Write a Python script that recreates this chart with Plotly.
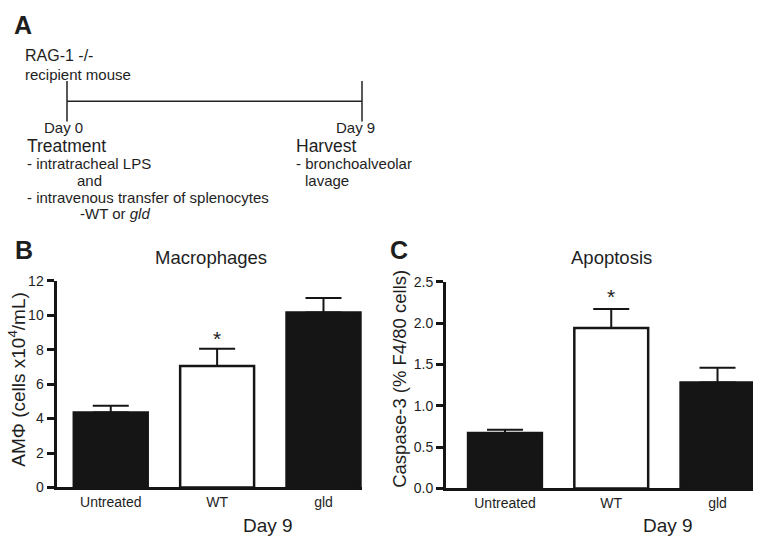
import plotly.graph_objects as go

W, H = 758, 545
FONT = "Liberation Sans, Arial, sans-serif"
TXT = "#1e1e1e"
INK = "#151515"

# ---- data ----
categories = ["Untreated", "WT", "gld"]
macrophage_mean = [4.35, 7.05, 10.15]
macrophage_upper = [4.75, 8.05, 11.0]
apoptosis_mean = [0.67, 1.94, 1.28]
apoptosis_upper = [0.71, 2.17, 1.46]
bar_colors = [INK, "white", INK]
significant = [False, True, False]
macro_ticks = [0, 2, 4, 6, 8, 10, 12]
apop_ticks = [0.0, 0.5, 1.0, 1.5, 2.0, 2.5]
timeline_days = [0, 9]


def px(x):
    return x / W


def py(y):
    return 1 - y / H


fig = go.Figure()


def bars(means, uppers, xa, ya):
    fig.add_trace(go.Bar(
        x=categories, y=means, xaxis=xa, yaxis=ya, width=0.695,
        marker=dict(color=bar_colors, line=dict(color=INK, width=2.5)),
        error_y=dict(type="data", symmetric=False,
                     array=[u - m for u, m in zip(uppers, means)],
                     arrayminus=[0] * len(means), color=INK, thickness=2, width=18),
        showlegend=False, hoverinfo="skip"))


bars(macrophage_mean, macrophage_upper, "x", "y")
bars(apoptosis_mean, apoptosis_upper, "x2", "y2")

# Panel A timeline
fig.add_trace(go.Scatter(
    x=timeline_days, y=[0, 0], xaxis="x3", yaxis="y3", mode="lines+markers",
    line=dict(color="#222222", width=1.5),
    marker=dict(symbol="line-ns", size=29, line=dict(color="#222222", width=1.5)),
    cliponaxis=False, showlegend=False, hoverinfo="skip"))

axis_common = dict(showline=True, linecolor=INK, linewidth=3,
                   showgrid=False, zeroline=False, fixedrange=True)
ytick_common = dict(ticks="outside", ticklen=7, tickwidth=2.5, tickcolor=INK,
                    tickfont=dict(size=14, color=TXT))

fig.update_layout(
    width=W, height=H, margin=dict(l=0, r=0, t=0, b=0),
    paper_bgcolor="white", plot_bgcolor="white",
    font=dict(family=FONT, color=TXT),
    xaxis=dict(domain=[px(56.5), px(362)], range=[-0.51, 2.362], anchor="y",
               ticks="", tickfont=dict(size=14, color=TXT), **axis_common),
    yaxis=dict(domain=[py(494), py(281)], range=[0, 12], anchor="x",
               tickvals=macro_ticks, **ytick_common, **axis_common),
    xaxis2=dict(domain=[px(446), px(753)], range=[-0.555, 2.334], anchor="y2",
                ticks="", tickfont=dict(size=14, color=TXT), **axis_common),
    yaxis2=dict(domain=[py(495), py(282)], range=[0, 2.5], anchor="x2",
                tickvals=apop_ticks, tickformat=".1f", **ytick_common, **axis_common),
    xaxis3=dict(domain=[px(67), px(362)], range=[0, 9], anchor="y3", visible=False,
                fixedrange=True),
    yaxis3=dict(domain=[py(111), py(81)], range=[-1, 1], anchor="x3", visible=False,
                fixedrange=True),
)

ann = []


def text(x, y, t, size, xanchor="left", bold=False, angle=0):
    ann.append(dict(x=px(x), y=py(y), xref="paper", yref="paper", text=t,
                    showarrow=False, xanchor=xanchor, yanchor="middle",
                    textangle=angle, borderpad=0,
                    font=dict(size=size, family=FONT, color=TXT,
                              weight="bold" if bold else "normal")))


# panel letters
text(23, 17, "A", 25, xanchor="center", bold=True)
text(24, 249, "B", 25, xanchor="center", bold=True)
text(399, 249, "C", 25, xanchor="center", bold=True)

# timeline text
text(24, 49, "RAG-1 -/-", 16)
text(24, 69, "recipient mouse", 15)
for d in timeline_days:
    ann.append(dict(x=d, y=0, xref="x3", yref="y3", text=f"Day {d}", showarrow=False,
                    xanchor="center", yanchor="middle", yshift=-26, borderpad=0,
                    xshift=-4 if d == 0 else -7,
                    font=dict(size=15, family=FONT, color=TXT)))
text(26, 142, "Treatment", 17.5)
text(26, 160, "- intratracheal LPS", 15)
text(76, 177.5, "and", 15)
text(26, 195, "- intravenous transfer of splenocytes", 15)
text(79, 212, "-WT or <i>gld</i>", 15)
text(295, 142, "Harvest", 17.5)
text(295, 160, "- bronchoalveolar", 15)
text(304, 178, "lavage", 15)

# chart titles
text(210.5, 257, "Macrophages", 18.5, xanchor="center")
text(611.5, 257, "Apoptosis", 18.5, xanchor="center")

# axis titles
text(17, 383, "AMΦ (cells x10<sup>4</sup>/mL)", 19, xanchor="center", angle=-90)
text(400, 382, "Caspase-3 (% F4/80 cells)", 18.5, xanchor="center", angle=-90)
text(268, 533, "Day 9", 19, xanchor="center")
text(668, 533, "Day 9", 19, xanchor="center")

# significance stars
for cat, up, sig in zip(categories, macrophage_upper, significant):
    if sig:
        ann.append(dict(x=cat, y=up + 0.07 * 12, xref="x", yref="y", text="*",
                        showarrow=False, yanchor="middle", yshift=-4,
                        font=dict(size=21, family=FONT, color=TXT)))
for cat, up, sig in zip(categories, apoptosis_upper, significant):
    if sig:
        ann.append(dict(x=cat, y=up + 0.08 * 2.5, xref="x2", yref="y2", text="*",
                        showarrow=False, yanchor="middle", yshift=-4,
                        font=dict(size=21, family=FONT, color=TXT)))

fig.update_layout(annotations=ann)
fig.write_html("out.html", config={"displayModeBar": False},
               post_script="document.body.style.margin='0';")
